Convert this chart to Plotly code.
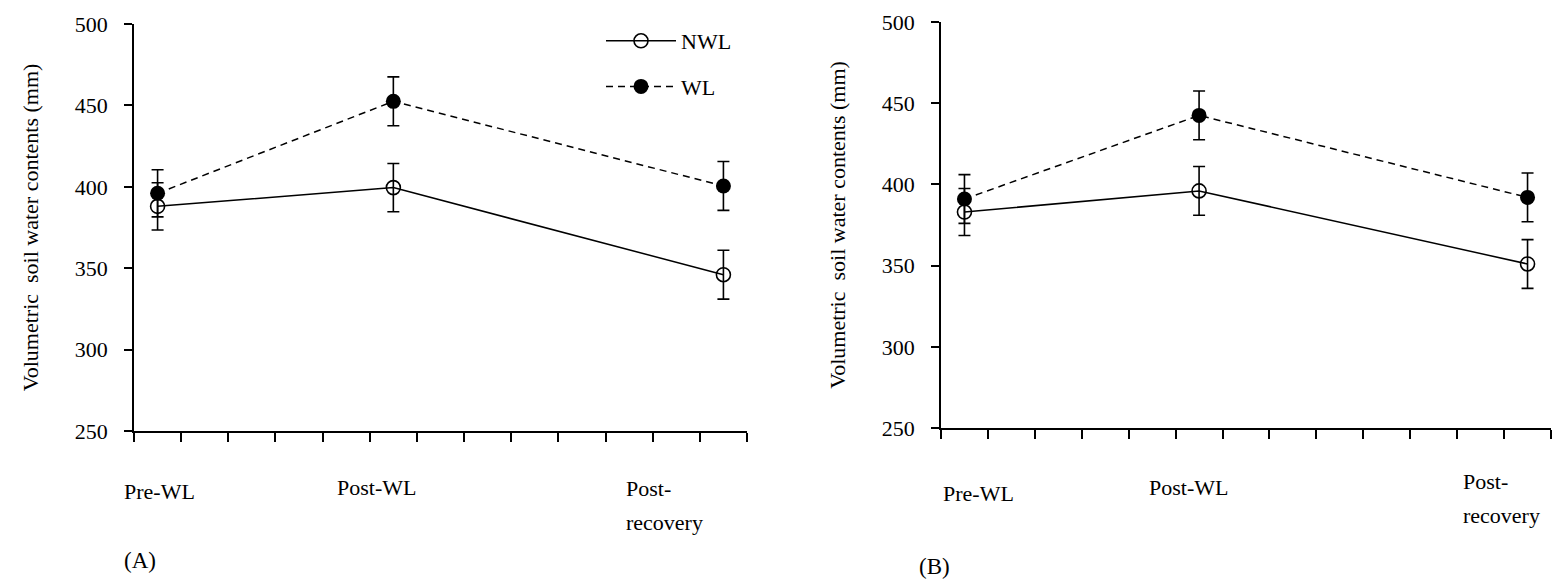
import plotly.graph_objects as go

# ---------------- data ----------------
stages = ["Pre-WL", "Post-WL", "Post-recovery"]
time_index = [0.5, 5.5, 12.5]          # position of each stage on the 13-unit time axis

# Panel A
a_nwl = [388, 399.5, 346]
a_nwl_err = [14.5, 14.8, 15]
a_wl = [396, 452.5, 400.5]
a_wl_err = [14.5, 15, 15]

# Panel B
b_nwl = [383, 396, 351]
b_nwl_err = [14.5, 15, 15]
b_wl = [391, 442.5, 392]
b_wl_err = [15, 15, 15]

y_ticks = [250, 300, 350, 400, 450, 500]
x_ticks = list(range(0, 14))
y_title = "Volumetric  soil water contents (mm)"

FONT = "Liberation Serif"
W, H = 1555, 581

fig = go.Figure()

def add_pair(xa, ya, nwl, nwl_err, wl, wl_err, show):
    fig.add_trace(go.Scatter(
        x=time_index, y=nwl, xaxis=xa, yaxis=ya, name="NWL",
        mode="lines+markers", showlegend=show, legendgroup="nwl",
        line=dict(color="black", width=1.5),
        marker=dict(symbol="circle-open", size=14, color="black", line=dict(width=1.6)),
        error_y=dict(type="data", array=nwl_err, visible=True, color="black", thickness=1.6, width=6),
    ))
    fig.add_trace(go.Scatter(
        x=time_index, y=wl, xaxis=xa, yaxis=ya, name="WL",
        mode="lines+markers", showlegend=show, legendgroup="wl",
        line=dict(color="black", width=1.5, dash="7px,5px"),
        marker=dict(symbol="circle", size=15, color="black"),
        error_y=dict(type="data", array=wl_err, visible=True, color="black", thickness=1.6, width=6),
    ))

add_pair("x", "y", a_nwl, a_nwl_err, a_wl, a_wl_err, True)
add_pair("x2", "y2", b_nwl, b_nwl_err, b_wl, b_wl_err, False)

def px2x(p):
    return p / W

def px2y(p):
    return 1 - p / H

xcommon = dict(range=[0, 13], tickvals=x_ticks, showticklabels=False, ticks="outside",
               ticklen=9, tickwidth=1.5, tickcolor="black", showline=True, linecolor="black",
               linewidth=1.8, showgrid=False, zeroline=False, fixedrange=True)
ycommon = dict(range=[250, 500], tickvals=y_ticks, ticks="outside", ticklen=8, tickwidth=1.5,
               tickcolor="black", showline=True, linecolor="black", linewidth=1.8,
               showgrid=False, zeroline=False, ticklabelstandoff=12,
               tickfont=dict(family=FONT, size=22, color="black"),
               title=dict(text=y_title, font=dict(family=FONT, size=22, color="black"), standoff=30),
               automargin=False)

fig.update_layout(
    width=W, height=H,
    margin=dict(l=0, r=0, t=0, b=0),
    paper_bgcolor="white", plot_bgcolor="white",
    font=dict(family=FONT, size=21, color="black"),
    xaxis=dict(domain=[px2x(134), px2x(747)], anchor="y", **xcommon),
    yaxis=dict(domain=[px2y(431), px2y(24)], anchor="x", **ycommon),
    xaxis2=dict(domain=[px2x(941), px2x(1551)], anchor="y2", **xcommon),
    yaxis2=dict(domain=[px2y(428), px2y(22)], anchor="x2", **ycommon),
    legend=dict(x=px2x(601), y=px2y(20), xanchor="left", yanchor="top",
                font=dict(family=FONT, size=22, color="black"),
                bgcolor="rgba(0,0,0,0)", tracegroupgap=14, itemwidth=70),
    showlegend=True,
)

labels = [
    # (text, x_px, y_px)
    ("Pre-WL", 122, 491),
    ("Post-WL", 335, 487),
    ("Post-", 624, 488),
    ("recovery", 624, 522),
    ("Pre-WL", 941, 494),
    ("Post-WL", 1147, 487),
    ("Post-", 1461, 481),
    ("recovery", 1461, 515),
]
for text, xp, yp in labels:
    fig.add_annotation(text=text, xref="paper", x=px2x(xp), yref="paper", y=px2y(yp),
                       xanchor="left", yanchor="middle", showarrow=False,
                       font=dict(family=FONT, size=22, color="black"))

for text, xp, yp in [("(A)", 122, 560), ("(B)", 917, 566)]:
    fig.add_annotation(text=text, xref="paper", x=px2x(xp), yref="paper", y=px2y(yp),
                       xanchor="left", yanchor="middle", showarrow=False,
                       font=dict(family=FONT, size=23, color="black"))

fig.write_html("out.html")
